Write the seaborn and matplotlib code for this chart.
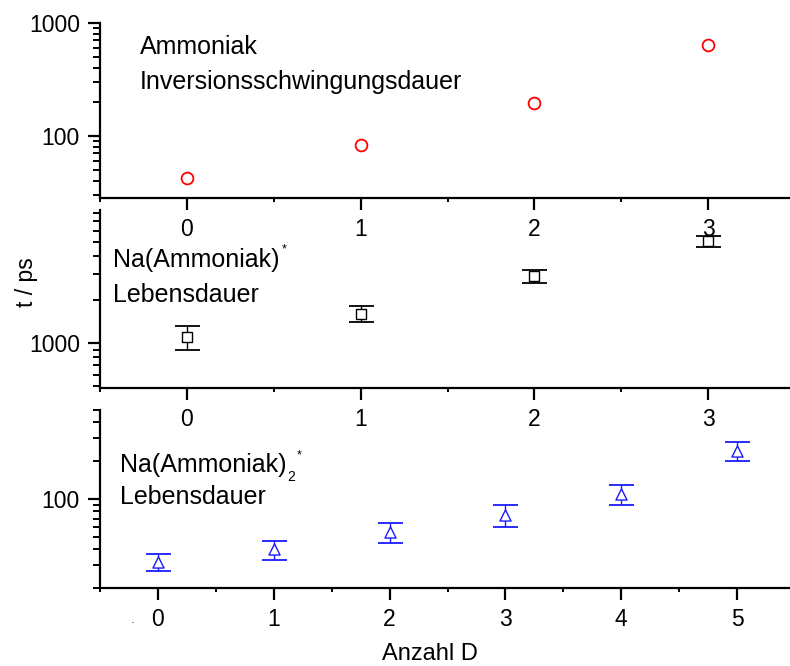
import numpy as np
import seaborn as sns
import matplotlib.pyplot as plt
from matplotlib.ticker import LogLocator, FuncFormatter, NullFormatter, MultipleLocator

# Ammoniak Inversionsschwingungsdauer
anzahl_d_nh3 = [0, 1, 2, 3]
t_nh3 = [42, 83, 196, 630]

# Na(Ammoniak)* Lebensdauer
anzahl_d_na1 = [0, 1, 2, 3]
t_na1 = [1100, 1600, 2910, 5080]
t_na1_err = [205, 205, 300, 440]

# Na(Ammoniak)2* Lebensdauer
anzahl_d_na2 = [0, 1, 2, 3, 4, 5]
t_na2 = [32, 40, 55, 75, 109, 240]
t_na2_err = [5, 7, 10, 15, 20, 42]

W, H = 790, 666
FS_TEXT = 18
FS_TICK = 16.5
BLUE = "#1a1aff"


def fx(x):
    return x / W


def fy(y):
    return 1 - y / H


def rect(left, top, right, bottom):
    return [left / W, 1 - bottom / H, (right - left) / W, (bottom - top) / H]


def style_axis(ax, xmax, ylim):
    ax.set_yscale("log")
    ax.set_ylim(*ylim)
    ax.set_xlim(-0.5, xmax + 0.5)
    ax.patch.set_alpha(0)
    ax.xaxis.set_major_locator(MultipleLocator(1))
    ax.xaxis.set_minor_locator(MultipleLocator(0.5))
    ax.yaxis.set_major_locator(LogLocator(base=10))
    ax.yaxis.set_minor_locator(LogLocator(base=10, subs=np.arange(2, 10), numticks=20))
    ax.yaxis.set_major_formatter(FuncFormatter(lambda v, p: f"{v:g}"))
    ax.yaxis.set_minor_formatter(NullFormatter())
    for side in ["top", "right"]:
        ax.spines[side].set_visible(False)
    for side in ["left", "bottom"]:
        ax.spines[side].set_linewidth(1.6)
        ax.spines[side].set_color("black")
    ax.tick_params(which="major", length=8.5, width=1.6, labelsize=FS_TICK, pad=6,
                   colors="black")
    ax.tick_params(axis="y", which="minor", length=4.7, width=1.4, colors="black")
    ax.tick_params(axis="x", which="minor", length=3, width=1.4, colors="black")
    ax.set_xlabel("")
    ax.set_ylabel("")
    ax.grid(False)


def main():
    sns.set_theme(style="ticks")
    plt.rcParams["font.family"] = ["Liberation Sans", "DejaVu Sans"]
    plt.rcParams["text.color"] = "black"
    plt.rcParams["axes.labelcolor"] = "black"

    fig = plt.figure(figsize=(7.9, 6.66), dpi=100)
    ax1 = fig.add_axes(rect(100, 22.7, 795, 198.3))
    ax2 = fig.add_axes(rect(100, 210, 795, 387.7))
    ax3 = fig.add_axes(rect(100, 410, 795, 587.7))

    # top: Ammoniak
    sns.scatterplot(x=anzahl_d_nh3, y=t_nh3, ax=ax1, marker="o", s=72,
                    color="white", edgecolor="red", linewidth=1.3, zorder=3)
    style_axis(ax1, 3, (28, 1000))

    # middle: Na(Ammoniak)*
    ax2.errorbar(anzahl_d_na1, t_na1, yerr=t_na1_err, fmt="none", ecolor="black",
                 elinewidth=1, capsize=9, capthick=1.3, zorder=2)
    sns.scatterplot(x=anzahl_d_na1, y=t_na1, ax=ax2, marker="s", s=48,
                    color="white", edgecolor="black", linewidth=1, zorder=3)
    style_axis(ax2, 3, (490, 8400))

    # bottom: Na(Ammoniak)2*
    ax3.errorbar(anzahl_d_na2, t_na2, yerr=t_na2_err, fmt="none", ecolor=BLUE,
                 elinewidth=1, capsize=9, capthick=1.3, zorder=2)
    sns.scatterplot(x=anzahl_d_na2, y=t_na2, ax=ax3, marker="^", s=64,
                    color="white", edgecolor=BLUE, linewidth=1, zorder=3)
    style_axis(ax3, 5, (20, 500))
    ax3.set_xlabel("Anzahl D", fontsize=17)
    ax3.xaxis.set_label_coords(0.475, -0.31)

    # annotations
    fig.text(fx(140), fy(54), "Ammoniak", fontsize=FS_TEXT, va="baseline")
    fig.text(fx(140), fy(88.5), "Inversionsschwingungsdauer", fontsize=FS_TEXT, va="baseline")

    na1 = fig.text(fx(113), fy(267), "Na(Ammoniak)", fontsize=FS_TEXT, va="baseline")
    fig.text(fx(113), fy(302), "Lebensdauer", fontsize=FS_TEXT, va="baseline")

    na2 = fig.text(fx(120), fy(472), "Na(Ammoniak)", fontsize=FS_TEXT, va="baseline")
    fig.text(fx(120), fy(504), "Lebensdauer", fontsize=FS_TEXT, va="baseline")

    fig.canvas.draw()
    r = fig.canvas.get_renderer()
    end1 = na1.get_window_extent(r).x1
    end2 = na2.get_window_extent(r).x1
    fig.text(fx(end1 + 2), fy(252), "*", fontsize=9, va="baseline")
    fig.text(fx(end2 + 1), fy(481), "2", fontsize=10, va="baseline")
    fig.text(fx(end2 + 10), fy(458), "*", fontsize=9, va="baseline")

    fig.text(fx(133), fy(623), "·", fontsize=8, ha="center", va="center")

    fig.text(fx(26), fy(282), "t / ps", fontsize=16.5, rotation=90,
             ha="center", va="center")

    fig.savefig("out.png", dpi=100)


if __name__ == "__main__":
    main()
